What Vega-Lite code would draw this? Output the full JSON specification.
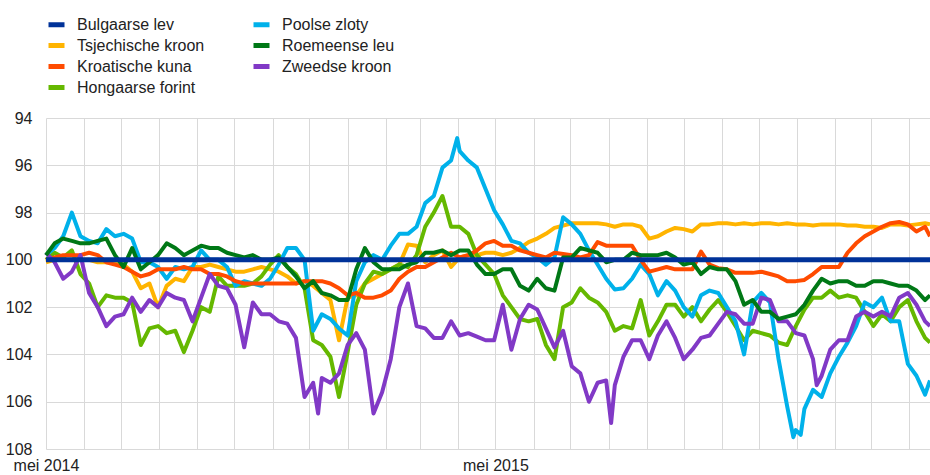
{
"$schema": "https://vega.github.io/schema/vega-lite/v6.json",
"width": 884, "height": 331,
"autosize": {"type": "none"},
"padding": {"left": 46, "top": 118, "right": 0, "bottom": 26},
"background": "white",
"config": {"font": "Liberation Sans", "view": {"stroke": null}},
"data": {"values": [
{"date":"2014-05-01","currency":"Tsjechische kroon","value":100.1},{"date":"2014-05-08","currency":"Tsjechische kroon","value":100.0},{"date":"2014-05-15","currency":"Tsjechische kroon","value":100.0},{"date":"2014-05-22","currency":"Tsjechische kroon","value":100.0},{"date":"2014-05-29","currency":"Tsjechische kroon","value":100.0},{"date":"2014-06-05","currency":"Tsjechische kroon","value":100.0},{"date":"2014-06-12","currency":"Tsjechische kroon","value":100.1},{"date":"2014-06-19","currency":"Tsjechische kroon","value":100.1},{"date":"2014-06-26","currency":"Tsjechische kroon","value":100.1},{"date":"2014-07-03","currency":"Tsjechische kroon","value":100.2},
{"date":"2014-07-10","currency":"Tsjechische kroon","value":100.5},{"date":"2014-07-17","currency":"Tsjechische kroon","value":101.2},{"date":"2014-07-24","currency":"Tsjechische kroon","value":101.0},{"date":"2014-07-31","currency":"Tsjechische kroon","value":102.0},{"date":"2014-08-07","currency":"Tsjechische kroon","value":101.1},{"date":"2014-08-14","currency":"Tsjechische kroon","value":100.8},{"date":"2014-08-21","currency":"Tsjechische kroon","value":100.9},{"date":"2014-08-28","currency":"Tsjechische kroon","value":100.3},{"date":"2014-09-04","currency":"Tsjechische kroon","value":100.3},{"date":"2014-09-11","currency":"Tsjechische kroon","value":100.2},
{"date":"2014-09-18","currency":"Tsjechische kroon","value":100.3},{"date":"2014-09-25","currency":"Tsjechische kroon","value":100.4},{"date":"2014-10-02","currency":"Tsjechische kroon","value":100.5},{"date":"2014-10-09","currency":"Tsjechische kroon","value":100.5},{"date":"2014-10-16","currency":"Tsjechische kroon","value":100.4},{"date":"2014-10-23","currency":"Tsjechische kroon","value":100.3},{"date":"2014-10-30","currency":"Tsjechische kroon","value":100.4},{"date":"2014-11-06","currency":"Tsjechische kroon","value":100.5},{"date":"2014-11-13","currency":"Tsjechische kroon","value":100.7},{"date":"2014-11-20","currency":"Tsjechische kroon","value":101.0},
{"date":"2014-11-27","currency":"Tsjechische kroon","value":100.9},{"date":"2014-12-04","currency":"Tsjechische kroon","value":101.1},{"date":"2014-12-11","currency":"Tsjechische kroon","value":101.4},{"date":"2014-12-18","currency":"Tsjechische kroon","value":101.7},{"date":"2014-12-25","currency":"Tsjechische kroon","value":103.4},{"date":"2015-01-01","currency":"Tsjechische kroon","value":101.6},{"date":"2015-01-08","currency":"Tsjechische kroon","value":101.5},{"date":"2015-01-15","currency":"Tsjechische kroon","value":101.0},{"date":"2015-01-22","currency":"Tsjechische kroon","value":100.8},{"date":"2015-01-29","currency":"Tsjechische kroon","value":100.6},
{"date":"2015-02-05","currency":"Tsjechische kroon","value":100.4},{"date":"2015-02-12","currency":"Tsjechische kroon","value":100.2},{"date":"2015-02-19","currency":"Tsjechische kroon","value":99.35},{"date":"2015-02-26","currency":"Tsjechische kroon","value":99.4},{"date":"2015-03-05","currency":"Tsjechische kroon","value":100.1},{"date":"2015-03-12","currency":"Tsjechische kroon","value":99.8},{"date":"2015-03-19","currency":"Tsjechische kroon","value":99.6},{"date":"2015-03-26","currency":"Tsjechische kroon","value":100.3},{"date":"2015-04-02","currency":"Tsjechische kroon","value":99.9},{"date":"2015-04-09","currency":"Tsjechische kroon","value":99.8},
{"date":"2015-04-16","currency":"Tsjechische kroon","value":99.8},{"date":"2015-04-23","currency":"Tsjechische kroon","value":99.7},{"date":"2015-04-30","currency":"Tsjechische kroon","value":99.7},{"date":"2015-05-07","currency":"Tsjechische kroon","value":99.8},{"date":"2015-05-14","currency":"Tsjechische kroon","value":99.7},{"date":"2015-05-21","currency":"Tsjechische kroon","value":99.5},{"date":"2015-05-28","currency":"Tsjechische kroon","value":99.25},{"date":"2015-06-04","currency":"Tsjechische kroon","value":99.1},{"date":"2015-06-11","currency":"Tsjechische kroon","value":98.9},{"date":"2015-06-18","currency":"Tsjechische kroon","value":98.65},
{"date":"2015-06-25","currency":"Tsjechische kroon","value":98.55},{"date":"2015-07-02","currency":"Tsjechische kroon","value":98.45},{"date":"2015-07-09","currency":"Tsjechische kroon","value":98.45},{"date":"2015-07-16","currency":"Tsjechische kroon","value":98.45},{"date":"2015-07-23","currency":"Tsjechische kroon","value":98.45},{"date":"2015-07-30","currency":"Tsjechische kroon","value":98.5},{"date":"2015-08-06","currency":"Tsjechische kroon","value":98.6},{"date":"2015-08-13","currency":"Tsjechische kroon","value":98.5},{"date":"2015-08-20","currency":"Tsjechische kroon","value":98.5},{"date":"2015-08-27","currency":"Tsjechische kroon","value":98.6},
{"date":"2015-09-03","currency":"Tsjechische kroon","value":99.1},{"date":"2015-09-10","currency":"Tsjechische kroon","value":99.0},{"date":"2015-09-17","currency":"Tsjechische kroon","value":98.8},{"date":"2015-09-24","currency":"Tsjechische kroon","value":98.65},{"date":"2015-10-01","currency":"Tsjechische kroon","value":98.7},{"date":"2015-10-08","currency":"Tsjechische kroon","value":98.8},{"date":"2015-10-15","currency":"Tsjechische kroon","value":98.5},{"date":"2015-10-22","currency":"Tsjechische kroon","value":98.5},{"date":"2015-10-29","currency":"Tsjechische kroon","value":98.45},{"date":"2015-11-05","currency":"Tsjechische kroon","value":98.45},
{"date":"2015-11-12","currency":"Tsjechische kroon","value":98.5},{"date":"2015-11-19","currency":"Tsjechische kroon","value":98.45},{"date":"2015-11-26","currency":"Tsjechische kroon","value":98.5},{"date":"2015-12-03","currency":"Tsjechische kroon","value":98.45},{"date":"2015-12-10","currency":"Tsjechische kroon","value":98.45},{"date":"2015-12-17","currency":"Tsjechische kroon","value":98.5},{"date":"2015-12-24","currency":"Tsjechische kroon","value":98.45},{"date":"2015-12-31","currency":"Tsjechische kroon","value":98.5},{"date":"2016-01-07","currency":"Tsjechische kroon","value":98.5},{"date":"2016-01-14","currency":"Tsjechische kroon","value":98.55},
{"date":"2016-01-21","currency":"Tsjechische kroon","value":98.5},{"date":"2016-01-28","currency":"Tsjechische kroon","value":98.5},{"date":"2016-02-04","currency":"Tsjechische kroon","value":98.5},{"date":"2016-02-11","currency":"Tsjechische kroon","value":98.55},{"date":"2016-02-18","currency":"Tsjechische kroon","value":98.55},{"date":"2016-02-25","currency":"Tsjechische kroon","value":98.6},{"date":"2016-03-03","currency":"Tsjechische kroon","value":98.6},{"date":"2016-03-10","currency":"Tsjechische kroon","value":98.65},{"date":"2016-03-17","currency":"Tsjechische kroon","value":98.5},{"date":"2016-03-24","currency":"Tsjechische kroon","value":98.5},
{"date":"2016-03-31","currency":"Tsjechische kroon","value":98.55},{"date":"2016-04-07","currency":"Tsjechische kroon","value":98.5},{"date":"2016-04-14","currency":"Tsjechische kroon","value":98.45},{"date":"2016-04-18","currency":"Tsjechische kroon","value":98.5},

{"date":"2014-05-01","currency":"Hongaarse forint","value":100.0},{"date":"2014-05-08","currency":"Hongaarse forint","value":99.7},{"date":"2014-05-15","currency":"Hongaarse forint","value":99.9},{"date":"2014-05-22","currency":"Hongaarse forint","value":99.6},{"date":"2014-05-29","currency":"Hongaarse forint","value":100.6},{"date":"2014-06-05","currency":"Hongaarse forint","value":101.0},{"date":"2014-06-12","currency":"Hongaarse forint","value":102.0},{"date":"2014-06-19","currency":"Hongaarse forint","value":101.5},{"date":"2014-06-26","currency":"Hongaarse forint","value":101.6},{"date":"2014-07-03","currency":"Hongaarse forint","value":101.6},
{"date":"2014-07-10","currency":"Hongaarse forint","value":101.8},{"date":"2014-07-17","currency":"Hongaarse forint","value":103.6},{"date":"2014-07-24","currency":"Hongaarse forint","value":102.9},{"date":"2014-07-31","currency":"Hongaarse forint","value":102.8},{"date":"2014-08-07","currency":"Hongaarse forint","value":103.1},{"date":"2014-08-14","currency":"Hongaarse forint","value":103.0},{"date":"2014-08-21","currency":"Hongaarse forint","value":103.9},{"date":"2014-08-28","currency":"Hongaarse forint","value":103.0},{"date":"2014-09-04","currency":"Hongaarse forint","value":102.0},{"date":"2014-09-11","currency":"Hongaarse forint","value":102.2},
{"date":"2014-09-18","currency":"Hongaarse forint","value":100.7},{"date":"2014-09-25","currency":"Hongaarse forint","value":101.1},{"date":"2014-10-02","currency":"Hongaarse forint","value":101.1},{"date":"2014-10-09","currency":"Hongaarse forint","value":101.1},{"date":"2014-10-16","currency":"Hongaarse forint","value":101.0},{"date":"2014-10-23","currency":"Hongaarse forint","value":100.7},{"date":"2014-10-30","currency":"Hongaarse forint","value":100.2},{"date":"2014-11-06","currency":"Hongaarse forint","value":99.8},{"date":"2014-11-13","currency":"Hongaarse forint","value":100.3},{"date":"2014-11-20","currency":"Hongaarse forint","value":100.6},
{"date":"2014-11-27","currency":"Hongaarse forint","value":101.2},{"date":"2014-12-04","currency":"Hongaarse forint","value":103.4},{"date":"2014-12-11","currency":"Hongaarse forint","value":103.6},{"date":"2014-12-18","currency":"Hongaarse forint","value":104.1},{"date":"2014-12-25","currency":"Hongaarse forint","value":105.8},{"date":"2015-01-01","currency":"Hongaarse forint","value":103.9},{"date":"2015-01-08","currency":"Hongaarse forint","value":101.9},{"date":"2015-01-15","currency":"Hongaarse forint","value":101.0},{"date":"2015-01-22","currency":"Hongaarse forint","value":100.5},{"date":"2015-01-29","currency":"Hongaarse forint","value":100.6},
{"date":"2015-02-05","currency":"Hongaarse forint","value":100.4},{"date":"2015-02-12","currency":"Hongaarse forint","value":100.2},{"date":"2015-02-19","currency":"Hongaarse forint","value":100.3},{"date":"2015-02-26","currency":"Hongaarse forint","value":99.8},{"date":"2015-03-05","currency":"Hongaarse forint","value":98.6},{"date":"2015-03-12","currency":"Hongaarse forint","value":98.0},{"date":"2015-03-19","currency":"Hongaarse forint","value":97.3},{"date":"2015-03-26","currency":"Hongaarse forint","value":98.6},{"date":"2015-04-02","currency":"Hongaarse forint","value":98.6},{"date":"2015-04-09","currency":"Hongaarse forint","value":98.9},
{"date":"2015-04-16","currency":"Hongaarse forint","value":99.8},{"date":"2015-04-23","currency":"Hongaarse forint","value":100.2},{"date":"2015-04-30","currency":"Hongaarse forint","value":100.6},{"date":"2015-05-07","currency":"Hongaarse forint","value":101.5},{"date":"2015-05-14","currency":"Hongaarse forint","value":102.0},{"date":"2015-05-21","currency":"Hongaarse forint","value":102.5},{"date":"2015-05-28","currency":"Hongaarse forint","value":102.6},{"date":"2015-06-04","currency":"Hongaarse forint","value":102.5},{"date":"2015-06-11","currency":"Hongaarse forint","value":103.6},{"date":"2015-06-18","currency":"Hongaarse forint","value":104.2},
{"date":"2015-06-25","currency":"Hongaarse forint","value":102.0},{"date":"2015-07-02","currency":"Hongaarse forint","value":101.8},{"date":"2015-07-09","currency":"Hongaarse forint","value":101.2},{"date":"2015-07-16","currency":"Hongaarse forint","value":101.6},{"date":"2015-07-23","currency":"Hongaarse forint","value":101.8},{"date":"2015-07-30","currency":"Hongaarse forint","value":102.2},{"date":"2015-08-06","currency":"Hongaarse forint","value":103.0},{"date":"2015-08-13","currency":"Hongaarse forint","value":102.8},{"date":"2015-08-20","currency":"Hongaarse forint","value":102.9},{"date":"2015-08-27","currency":"Hongaarse forint","value":101.7},
{"date":"2015-09-03","currency":"Hongaarse forint","value":103.2},{"date":"2015-09-10","currency":"Hongaarse forint","value":102.6},{"date":"2015-09-17","currency":"Hongaarse forint","value":101.9},{"date":"2015-09-24","currency":"Hongaarse forint","value":101.9},{"date":"2015-10-01","currency":"Hongaarse forint","value":102.4},{"date":"2015-10-08","currency":"Hongaarse forint","value":102.0},{"date":"2015-10-15","currency":"Hongaarse forint","value":102.6},{"date":"2015-10-22","currency":"Hongaarse forint","value":102.1},{"date":"2015-10-29","currency":"Hongaarse forint","value":101.7},{"date":"2015-11-05","currency":"Hongaarse forint","value":102.2},
{"date":"2015-11-12","currency":"Hongaarse forint","value":102.8},{"date":"2015-11-19","currency":"Hongaarse forint","value":103.4},{"date":"2015-11-26","currency":"Hongaarse forint","value":103.0},{"date":"2015-12-03","currency":"Hongaarse forint","value":103.1},{"date":"2015-12-10","currency":"Hongaarse forint","value":103.2},{"date":"2015-12-17","currency":"Hongaarse forint","value":103.5},{"date":"2015-12-24","currency":"Hongaarse forint","value":103.6},{"date":"2015-12-31","currency":"Hongaarse forint","value":102.8},{"date":"2016-01-07","currency":"Hongaarse forint","value":102.1},{"date":"2016-01-14","currency":"Hongaarse forint","value":101.6},
{"date":"2016-01-21","currency":"Hongaarse forint","value":101.6},{"date":"2016-01-28","currency":"Hongaarse forint","value":101.3},{"date":"2016-02-04","currency":"Hongaarse forint","value":101.6},{"date":"2016-02-11","currency":"Hongaarse forint","value":101.5},{"date":"2016-02-18","currency":"Hongaarse forint","value":101.6},{"date":"2016-02-25","currency":"Hongaarse forint","value":102.2},{"date":"2016-03-03","currency":"Hongaarse forint","value":102.8},{"date":"2016-03-10","currency":"Hongaarse forint","value":102.3},{"date":"2016-03-17","currency":"Hongaarse forint","value":102.6},{"date":"2016-03-24","currency":"Hongaarse forint","value":102.0},
{"date":"2016-03-31","currency":"Hongaarse forint","value":101.7},{"date":"2016-04-07","currency":"Hongaarse forint","value":102.6},{"date":"2016-04-14","currency":"Hongaarse forint","value":103.3},{"date":"2016-04-18","currency":"Hongaarse forint","value":103.5},

{"date":"2014-05-01","currency":"Poolse zloty","value":99.8},{"date":"2014-05-08","currency":"Poolse zloty","value":99.5},{"date":"2014-05-15","currency":"Poolse zloty","value":99.0},{"date":"2014-05-22","currency":"Poolse zloty","value":98.0},{"date":"2014-05-29","currency":"Poolse zloty","value":99.0},{"date":"2014-06-05","currency":"Poolse zloty","value":99.2},{"date":"2014-06-12","currency":"Poolse zloty","value":99.3},{"date":"2014-06-19","currency":"Poolse zloty","value":98.7},{"date":"2014-06-26","currency":"Poolse zloty","value":99.0},{"date":"2014-07-03","currency":"Poolse zloty","value":98.9},
{"date":"2014-07-10","currency":"Poolse zloty","value":99.1},{"date":"2014-07-17","currency":"Poolse zloty","value":100.1},{"date":"2014-07-24","currency":"Poolse zloty","value":100.1},{"date":"2014-07-31","currency":"Poolse zloty","value":100.3},{"date":"2014-08-07","currency":"Poolse zloty","value":100.8},{"date":"2014-08-14","currency":"Poolse zloty","value":100.3},{"date":"2014-08-21","currency":"Poolse zloty","value":100.4},{"date":"2014-08-28","currency":"Poolse zloty","value":100.3},{"date":"2014-09-04","currency":"Poolse zloty","value":99.6},{"date":"2014-09-11","currency":"Poolse zloty","value":100.0},
{"date":"2014-09-18","currency":"Poolse zloty","value":100.0},{"date":"2014-09-25","currency":"Poolse zloty","value":100.3},{"date":"2014-10-02","currency":"Poolse zloty","value":101.1},{"date":"2014-10-09","currency":"Poolse zloty","value":100.9},{"date":"2014-10-16","currency":"Poolse zloty","value":101.0},{"date":"2014-10-23","currency":"Poolse zloty","value":101.1},{"date":"2014-10-30","currency":"Poolse zloty","value":100.8},{"date":"2014-11-06","currency":"Poolse zloty","value":100.2},{"date":"2014-11-13","currency":"Poolse zloty","value":99.5},{"date":"2014-11-20","currency":"Poolse zloty","value":99.5},
{"date":"2014-11-27","currency":"Poolse zloty","value":100.0},{"date":"2014-12-04","currency":"Poolse zloty","value":103.0},{"date":"2014-12-11","currency":"Poolse zloty","value":102.3},{"date":"2014-12-18","currency":"Poolse zloty","value":102.5},{"date":"2014-12-25","currency":"Poolse zloty","value":102.9},{"date":"2015-01-01","currency":"Poolse zloty","value":103.2},{"date":"2015-01-08","currency":"Poolse zloty","value":100.9},{"date":"2015-01-15","currency":"Poolse zloty","value":100.1},{"date":"2015-01-22","currency":"Poolse zloty","value":99.8},{"date":"2015-01-29","currency":"Poolse zloty","value":100.0},
{"date":"2015-02-05","currency":"Poolse zloty","value":99.4},{"date":"2015-02-12","currency":"Poolse zloty","value":98.9},{"date":"2015-02-19","currency":"Poolse zloty","value":98.9},{"date":"2015-02-26","currency":"Poolse zloty","value":98.6},{"date":"2015-03-05","currency":"Poolse zloty","value":97.6},{"date":"2015-03-12","currency":"Poolse zloty","value":97.3},{"date":"2015-03-19","currency":"Poolse zloty","value":96.1},{"date":"2015-03-26","currency":"Poolse zloty","value":95.8},{"date":"2015-03-31","currency":"Poolse zloty","value":94.85},{"date":"2015-04-02","currency":"Poolse zloty","value":95.4},{"date":"2015-04-09","currency":"Poolse zloty","value":95.8},
{"date":"2015-04-16","currency":"Poolse zloty","value":96.1},{"date":"2015-04-23","currency":"Poolse zloty","value":97.0},{"date":"2015-04-30","currency":"Poolse zloty","value":97.9},{"date":"2015-05-07","currency":"Poolse zloty","value":98.5},{"date":"2015-05-14","currency":"Poolse zloty","value":99.2},{"date":"2015-05-21","currency":"Poolse zloty","value":99.3},{"date":"2015-05-28","currency":"Poolse zloty","value":99.7},{"date":"2015-06-04","currency":"Poolse zloty","value":99.9},{"date":"2015-06-11","currency":"Poolse zloty","value":100.2},{"date":"2015-06-18","currency":"Poolse zloty","value":99.9},
{"date":"2015-06-25","currency":"Poolse zloty","value":98.2},{"date":"2015-07-02","currency":"Poolse zloty","value":98.5},{"date":"2015-07-09","currency":"Poolse zloty","value":98.9},{"date":"2015-07-16","currency":"Poolse zloty","value":99.6},{"date":"2015-07-23","currency":"Poolse zloty","value":100.2},{"date":"2015-07-30","currency":"Poolse zloty","value":100.8},{"date":"2015-08-06","currency":"Poolse zloty","value":101.25},{"date":"2015-08-13","currency":"Poolse zloty","value":101.2},{"date":"2015-08-20","currency":"Poolse zloty","value":100.8},{"date":"2015-08-27","currency":"Poolse zloty","value":100.2},
{"date":"2015-09-03","currency":"Poolse zloty","value":100.6},{"date":"2015-09-10","currency":"Poolse zloty","value":101.5},{"date":"2015-09-17","currency":"Poolse zloty","value":100.9},{"date":"2015-09-24","currency":"Poolse zloty","value":101.3},{"date":"2015-10-01","currency":"Poolse zloty","value":102.0},{"date":"2015-10-08","currency":"Poolse zloty","value":102.4},{"date":"2015-10-15","currency":"Poolse zloty","value":101.5},{"date":"2015-10-22","currency":"Poolse zloty","value":101.3},{"date":"2015-10-29","currency":"Poolse zloty","value":101.4},{"date":"2015-11-05","currency":"Poolse zloty","value":102.0},
{"date":"2015-11-12","currency":"Poolse zloty","value":102.6},{"date":"2015-11-19","currency":"Poolse zloty","value":104.0},{"date":"2015-11-26","currency":"Poolse zloty","value":101.8},{"date":"2015-12-03","currency":"Poolse zloty","value":101.4},{"date":"2015-12-10","currency":"Poolse zloty","value":101.8},{"date":"2015-12-17","currency":"Poolse zloty","value":104.2},{"date":"2015-12-24","currency":"Poolse zloty","value":106.2},{"date":"2015-12-29","currency":"Poolse zloty","value":107.5},{"date":"2015-12-31","currency":"Poolse zloty","value":107.2},{"date":"2016-01-04","currency":"Poolse zloty","value":107.4},{"date":"2016-01-07","currency":"Poolse zloty","value":106.3},{"date":"2016-01-14","currency":"Poolse zloty","value":105.5},
{"date":"2016-01-21","currency":"Poolse zloty","value":105.8},{"date":"2016-01-28","currency":"Poolse zloty","value":104.8},{"date":"2016-02-04","currency":"Poolse zloty","value":104.1},{"date":"2016-02-11","currency":"Poolse zloty","value":103.5},{"date":"2016-02-18","currency":"Poolse zloty","value":102.8},{"date":"2016-02-25","currency":"Poolse zloty","value":101.8},{"date":"2016-03-03","currency":"Poolse zloty","value":102.0},{"date":"2016-03-10","currency":"Poolse zloty","value":101.6},{"date":"2016-03-17","currency":"Poolse zloty","value":102.6},{"date":"2016-03-24","currency":"Poolse zloty","value":102.6},
{"date":"2016-03-31","currency":"Poolse zloty","value":104.4},{"date":"2016-04-07","currency":"Poolse zloty","value":104.9},{"date":"2016-04-14","currency":"Poolse zloty","value":105.7},{"date":"2016-04-18","currency":"Poolse zloty","value":105.1},

{"date":"2014-05-01","currency":"Kroatische kuna","value":100.0},{"date":"2014-05-08","currency":"Kroatische kuna","value":99.9},{"date":"2014-05-15","currency":"Kroatische kuna","value":99.8},{"date":"2014-05-22","currency":"Kroatische kuna","value":99.8},{"date":"2014-05-29","currency":"Kroatische kuna","value":99.8},{"date":"2014-06-05","currency":"Kroatische kuna","value":99.7},{"date":"2014-06-12","currency":"Kroatische kuna","value":99.8},{"date":"2014-06-19","currency":"Kroatische kuna","value":100.1},{"date":"2014-06-26","currency":"Kroatische kuna","value":100.2},{"date":"2014-07-03","currency":"Kroatische kuna","value":100.3},
{"date":"2014-07-10","currency":"Kroatische kuna","value":100.5},{"date":"2014-07-17","currency":"Kroatische kuna","value":100.7},{"date":"2014-07-24","currency":"Kroatische kuna","value":100.6},{"date":"2014-07-31","currency":"Kroatische kuna","value":100.4},{"date":"2014-08-07","currency":"Kroatische kuna","value":100.4},{"date":"2014-08-14","currency":"Kroatische kuna","value":100.4},{"date":"2014-08-21","currency":"Kroatische kuna","value":100.3},{"date":"2014-08-28","currency":"Kroatische kuna","value":100.4},{"date":"2014-09-04","currency":"Kroatische kuna","value":100.4},{"date":"2014-09-11","currency":"Kroatische kuna","value":100.6},
{"date":"2014-09-18","currency":"Kroatische kuna","value":100.6},{"date":"2014-09-25","currency":"Kroatische kuna","value":100.7},{"date":"2014-10-02","currency":"Kroatische kuna","value":100.9},{"date":"2014-10-09","currency":"Kroatische kuna","value":101.0},{"date":"2014-10-16","currency":"Kroatische kuna","value":101.0},{"date":"2014-10-23","currency":"Kroatische kuna","value":101.0},{"date":"2014-10-30","currency":"Kroatische kuna","value":101.0},{"date":"2014-11-06","currency":"Kroatische kuna","value":101.0},{"date":"2014-11-13","currency":"Kroatische kuna","value":101.0},{"date":"2014-11-20","currency":"Kroatische kuna","value":101.0},
{"date":"2014-11-27","currency":"Kroatische kuna","value":100.9},{"date":"2014-12-04","currency":"Kroatische kuna","value":100.9},{"date":"2014-12-11","currency":"Kroatische kuna","value":100.9},{"date":"2014-12-18","currency":"Kroatische kuna","value":101.0},{"date":"2014-12-25","currency":"Kroatische kuna","value":101.2},{"date":"2015-01-01","currency":"Kroatische kuna","value":101.5},{"date":"2015-01-08","currency":"Kroatische kuna","value":101.4},{"date":"2015-01-15","currency":"Kroatische kuna","value":101.6},{"date":"2015-01-22","currency":"Kroatische kuna","value":101.6},{"date":"2015-01-29","currency":"Kroatische kuna","value":101.5},
{"date":"2015-02-05","currency":"Kroatische kuna","value":101.3},{"date":"2015-02-12","currency":"Kroatische kuna","value":100.8},{"date":"2015-02-19","currency":"Kroatische kuna","value":100.5},{"date":"2015-02-26","currency":"Kroatische kuna","value":100.3},{"date":"2015-03-05","currency":"Kroatische kuna","value":100.3},{"date":"2015-03-12","currency":"Kroatische kuna","value":100.1},{"date":"2015-03-19","currency":"Kroatische kuna","value":99.9},{"date":"2015-03-26","currency":"Kroatische kuna","value":99.7},{"date":"2015-04-02","currency":"Kroatische kuna","value":99.9},{"date":"2015-04-09","currency":"Kroatische kuna","value":99.8},
{"date":"2015-04-16","currency":"Kroatische kuna","value":99.6},{"date":"2015-04-23","currency":"Kroatische kuna","value":99.3},{"date":"2015-04-30","currency":"Kroatische kuna","value":99.2},{"date":"2015-05-07","currency":"Kroatische kuna","value":99.4},{"date":"2015-05-14","currency":"Kroatische kuna","value":99.4},{"date":"2015-05-21","currency":"Kroatische kuna","value":99.6},{"date":"2015-05-28","currency":"Kroatische kuna","value":99.7},{"date":"2015-06-04","currency":"Kroatische kuna","value":99.8},{"date":"2015-06-11","currency":"Kroatische kuna","value":99.9},{"date":"2015-06-18","currency":"Kroatische kuna","value":99.7},
{"date":"2015-06-25","currency":"Kroatische kuna","value":99.75},{"date":"2015-07-02","currency":"Kroatische kuna","value":99.8},{"date":"2015-07-09","currency":"Kroatische kuna","value":99.9},{"date":"2015-07-16","currency":"Kroatische kuna","value":99.8},{"date":"2015-07-23","currency":"Kroatische kuna","value":99.25},{"date":"2015-07-30","currency":"Kroatische kuna","value":99.4},{"date":"2015-08-06","currency":"Kroatische kuna","value":99.4},{"date":"2015-08-13","currency":"Kroatische kuna","value":99.4},{"date":"2015-08-20","currency":"Kroatische kuna","value":99.4},{"date":"2015-08-27","currency":"Kroatische kuna","value":100.0},
{"date":"2015-09-03","currency":"Kroatische kuna","value":100.5},{"date":"2015-09-10","currency":"Kroatische kuna","value":100.4},{"date":"2015-09-17","currency":"Kroatische kuna","value":100.3},{"date":"2015-09-24","currency":"Kroatische kuna","value":100.4},{"date":"2015-10-01","currency":"Kroatische kuna","value":100.4},{"date":"2015-10-08","currency":"Kroatische kuna","value":100.4},{"date":"2015-10-15","currency":"Kroatische kuna","value":99.65},{"date":"2015-10-22","currency":"Kroatische kuna","value":100.2},{"date":"2015-10-29","currency":"Kroatische kuna","value":100.35},{"date":"2015-11-05","currency":"Kroatische kuna","value":100.4},
{"date":"2015-11-12","currency":"Kroatische kuna","value":100.55},{"date":"2015-11-19","currency":"Kroatische kuna","value":100.55},{"date":"2015-11-26","currency":"Kroatische kuna","value":100.55},{"date":"2015-12-03","currency":"Kroatische kuna","value":100.5},{"date":"2015-12-10","currency":"Kroatische kuna","value":100.6},{"date":"2015-12-17","currency":"Kroatische kuna","value":100.7},{"date":"2015-12-24","currency":"Kroatische kuna","value":100.9},{"date":"2015-12-31","currency":"Kroatische kuna","value":100.9},{"date":"2016-01-07","currency":"Kroatische kuna","value":100.85},{"date":"2016-01-14","currency":"Kroatische kuna","value":100.6},
{"date":"2016-01-21","currency":"Kroatische kuna","value":100.3},{"date":"2016-01-28","currency":"Kroatische kuna","value":100.3},{"date":"2016-02-04","currency":"Kroatische kuna","value":100.3},{"date":"2016-02-11","currency":"Kroatische kuna","value":99.7},{"date":"2016-02-18","currency":"Kroatische kuna","value":99.3},{"date":"2016-02-25","currency":"Kroatische kuna","value":99.0},{"date":"2016-03-03","currency":"Kroatische kuna","value":98.8},{"date":"2016-03-10","currency":"Kroatische kuna","value":98.6},{"date":"2016-03-17","currency":"Kroatische kuna","value":98.45},{"date":"2016-03-24","currency":"Kroatische kuna","value":98.4},
{"date":"2016-03-31","currency":"Kroatische kuna","value":98.5},{"date":"2016-04-07","currency":"Kroatische kuna","value":98.8},{"date":"2016-04-14","currency":"Kroatische kuna","value":98.6},{"date":"2016-04-18","currency":"Kroatische kuna","value":99.0},

{"date":"2014-05-01","currency":"Zweedse kroon","value":99.7},{"date":"2014-05-08","currency":"Zweedse kroon","value":100.1},{"date":"2014-05-15","currency":"Zweedse kroon","value":100.8},{"date":"2014-05-22","currency":"Zweedse kroon","value":100.5},{"date":"2014-05-29","currency":"Zweedse kroon","value":99.8},{"date":"2014-06-05","currency":"Zweedse kroon","value":101.4},{"date":"2014-06-12","currency":"Zweedse kroon","value":102.0},{"date":"2014-06-19","currency":"Zweedse kroon","value":102.8},{"date":"2014-06-26","currency":"Zweedse kroon","value":102.4},{"date":"2014-07-03","currency":"Zweedse kroon","value":102.3},
{"date":"2014-07-10","currency":"Zweedse kroon","value":101.6},{"date":"2014-07-17","currency":"Zweedse kroon","value":102.2},{"date":"2014-07-24","currency":"Zweedse kroon","value":101.7},{"date":"2014-07-31","currency":"Zweedse kroon","value":102.0},{"date":"2014-08-07","currency":"Zweedse kroon","value":101.4},{"date":"2014-08-14","currency":"Zweedse kroon","value":101.6},{"date":"2014-08-21","currency":"Zweedse kroon","value":101.7},{"date":"2014-08-28","currency":"Zweedse kroon","value":102.6},{"date":"2014-09-04","currency":"Zweedse kroon","value":101.6},{"date":"2014-09-11","currency":"Zweedse kroon","value":100.6},
{"date":"2014-09-18","currency":"Zweedse kroon","value":101.1},{"date":"2014-09-25","currency":"Zweedse kroon","value":101.2},{"date":"2014-10-02","currency":"Zweedse kroon","value":101.9},{"date":"2014-10-09","currency":"Zweedse kroon","value":103.7},{"date":"2014-10-16","currency":"Zweedse kroon","value":101.8},{"date":"2014-10-23","currency":"Zweedse kroon","value":102.3},{"date":"2014-10-30","currency":"Zweedse kroon","value":102.3},{"date":"2014-11-06","currency":"Zweedse kroon","value":102.6},{"date":"2014-11-13","currency":"Zweedse kroon","value":102.7},{"date":"2014-11-20","currency":"Zweedse kroon","value":103.3},
{"date":"2014-11-27","currency":"Zweedse kroon","value":105.8},{"date":"2014-12-04","currency":"Zweedse kroon","value":105.2},{"date":"2014-12-08","currency":"Zweedse kroon","value":106.5},{"date":"2014-12-11","currency":"Zweedse kroon","value":105.0},{"date":"2014-12-18","currency":"Zweedse kroon","value":105.2},{"date":"2014-12-25","currency":"Zweedse kroon","value":104.8},{"date":"2015-01-01","currency":"Zweedse kroon","value":103.6},{"date":"2015-01-08","currency":"Zweedse kroon","value":103.1},{"date":"2015-01-15","currency":"Zweedse kroon","value":103.8},{"date":"2015-01-22","currency":"Zweedse kroon","value":106.5},{"date":"2015-01-29","currency":"Zweedse kroon","value":105.6},
{"date":"2015-02-05","currency":"Zweedse kroon","value":104.2},{"date":"2015-02-12","currency":"Zweedse kroon","value":102.0},{"date":"2015-02-19","currency":"Zweedse kroon","value":101.0},{"date":"2015-02-26","currency":"Zweedse kroon","value":102.8},{"date":"2015-03-05","currency":"Zweedse kroon","value":102.9},{"date":"2015-03-12","currency":"Zweedse kroon","value":103.3},{"date":"2015-03-19","currency":"Zweedse kroon","value":103.3},{"date":"2015-03-26","currency":"Zweedse kroon","value":102.6},{"date":"2015-04-02","currency":"Zweedse kroon","value":103.2},{"date":"2015-04-09","currency":"Zweedse kroon","value":103.1},
{"date":"2015-04-16","currency":"Zweedse kroon","value":103.25},{"date":"2015-04-23","currency":"Zweedse kroon","value":103.4},{"date":"2015-04-30","currency":"Zweedse kroon","value":103.4},{"date":"2015-05-07","currency":"Zweedse kroon","value":101.9},{"date":"2015-05-14","currency":"Zweedse kroon","value":103.8},{"date":"2015-05-21","currency":"Zweedse kroon","value":102.5},{"date":"2015-05-28","currency":"Zweedse kroon","value":101.9},{"date":"2015-06-04","currency":"Zweedse kroon","value":102.1},{"date":"2015-06-11","currency":"Zweedse kroon","value":102.9},{"date":"2015-06-18","currency":"Zweedse kroon","value":103.7},
{"date":"2015-06-25","currency":"Zweedse kroon","value":103.0},{"date":"2015-07-02","currency":"Zweedse kroon","value":104.5},{"date":"2015-07-09","currency":"Zweedse kroon","value":104.8},{"date":"2015-07-16","currency":"Zweedse kroon","value":106.0},{"date":"2015-07-23","currency":"Zweedse kroon","value":105.2},{"date":"2015-07-30","currency":"Zweedse kroon","value":105.1},{"date":"2015-08-03","currency":"Zweedse kroon","value":106.9},{"date":"2015-08-06","currency":"Zweedse kroon","value":105.3},{"date":"2015-08-13","currency":"Zweedse kroon","value":104.1},{"date":"2015-08-20","currency":"Zweedse kroon","value":103.4},{"date":"2015-08-27","currency":"Zweedse kroon","value":103.4},
{"date":"2015-09-03","currency":"Zweedse kroon","value":104.2},{"date":"2015-09-10","currency":"Zweedse kroon","value":103.2},{"date":"2015-09-17","currency":"Zweedse kroon","value":102.6},{"date":"2015-09-24","currency":"Zweedse kroon","value":103.3},{"date":"2015-10-01","currency":"Zweedse kroon","value":104.2},{"date":"2015-10-08","currency":"Zweedse kroon","value":103.8},{"date":"2015-10-15","currency":"Zweedse kroon","value":103.3},{"date":"2015-10-22","currency":"Zweedse kroon","value":103.2},{"date":"2015-10-29","currency":"Zweedse kroon","value":102.7},{"date":"2015-11-05","currency":"Zweedse kroon","value":102.2},
{"date":"2015-11-12","currency":"Zweedse kroon","value":102.3},{"date":"2015-11-19","currency":"Zweedse kroon","value":102.7},{"date":"2015-11-26","currency":"Zweedse kroon","value":102.7},{"date":"2015-12-03","currency":"Zweedse kroon","value":101.6},{"date":"2015-12-10","currency":"Zweedse kroon","value":101.7},{"date":"2015-12-17","currency":"Zweedse kroon","value":102.6},{"date":"2015-12-24","currency":"Zweedse kroon","value":102.6},{"date":"2015-12-31","currency":"Zweedse kroon","value":103.1},{"date":"2016-01-07","currency":"Zweedse kroon","value":103.2},{"date":"2016-01-14","currency":"Zweedse kroon","value":104.2},{"date":"2016-01-17","currency":"Zweedse kroon","value":105.3},
{"date":"2016-01-21","currency":"Zweedse kroon","value":104.9},{"date":"2016-01-28","currency":"Zweedse kroon","value":103.8},{"date":"2016-02-04","currency":"Zweedse kroon","value":103.4},{"date":"2016-02-11","currency":"Zweedse kroon","value":103.4},{"date":"2016-02-18","currency":"Zweedse kroon","value":102.4},{"date":"2016-02-25","currency":"Zweedse kroon","value":102.2},{"date":"2016-03-03","currency":"Zweedse kroon","value":102.4},{"date":"2016-03-10","currency":"Zweedse kroon","value":102.2},{"date":"2016-03-17","currency":"Zweedse kroon","value":102.4},{"date":"2016-03-24","currency":"Zweedse kroon","value":101.6},
{"date":"2016-03-31","currency":"Zweedse kroon","value":101.4},{"date":"2016-04-07","currency":"Zweedse kroon","value":101.9},{"date":"2016-04-14","currency":"Zweedse kroon","value":102.6},{"date":"2016-04-18","currency":"Zweedse kroon","value":102.8},

{"date":"2014-05-01","currency":"Roemeense leu","value":99.8},{"date":"2014-05-08","currency":"Roemeense leu","value":99.3},{"date":"2014-05-15","currency":"Roemeense leu","value":99.1},{"date":"2014-05-22","currency":"Roemeense leu","value":99.2},{"date":"2014-05-29","currency":"Roemeense leu","value":99.3},{"date":"2014-06-05","currency":"Roemeense leu","value":99.3},{"date":"2014-06-12","currency":"Roemeense leu","value":99.2},{"date":"2014-06-19","currency":"Roemeense leu","value":99.1},{"date":"2014-06-26","currency":"Roemeense leu","value":99.8},{"date":"2014-07-03","currency":"Roemeense leu","value":100.3},
{"date":"2014-07-10","currency":"Roemeense leu","value":99.5},{"date":"2014-07-17","currency":"Roemeense leu","value":100.4},{"date":"2014-07-24","currency":"Roemeense leu","value":100.1},{"date":"2014-07-31","currency":"Roemeense leu","value":99.8},{"date":"2014-08-07","currency":"Roemeense leu","value":99.3},{"date":"2014-08-14","currency":"Roemeense leu","value":99.5},{"date":"2014-08-21","currency":"Roemeense leu","value":99.8},{"date":"2014-08-28","currency":"Roemeense leu","value":99.6},{"date":"2014-09-04","currency":"Roemeense leu","value":99.4},{"date":"2014-09-11","currency":"Roemeense leu","value":99.5},
{"date":"2014-09-18","currency":"Roemeense leu","value":99.5},{"date":"2014-09-25","currency":"Roemeense leu","value":99.7},{"date":"2014-10-02","currency":"Roemeense leu","value":99.8},{"date":"2014-10-09","currency":"Roemeense leu","value":99.9},{"date":"2014-10-16","currency":"Roemeense leu","value":99.8},{"date":"2014-10-23","currency":"Roemeense leu","value":100.0},{"date":"2014-10-30","currency":"Roemeense leu","value":100.0},{"date":"2014-11-06","currency":"Roemeense leu","value":99.9},{"date":"2014-11-13","currency":"Roemeense leu","value":100.3},{"date":"2014-11-20","currency":"Roemeense leu","value":100.7},
{"date":"2014-11-27","currency":"Roemeense leu","value":101.2},{"date":"2014-12-04","currency":"Roemeense leu","value":100.9},{"date":"2014-12-11","currency":"Roemeense leu","value":101.4},{"date":"2014-12-18","currency":"Roemeense leu","value":101.5},{"date":"2014-12-25","currency":"Roemeense leu","value":101.7},{"date":"2015-01-01","currency":"Roemeense leu","value":101.7},{"date":"2015-01-08","currency":"Roemeense leu","value":100.4},{"date":"2015-01-15","currency":"Roemeense leu","value":99.5},{"date":"2015-01-22","currency":"Roemeense leu","value":100.1},{"date":"2015-01-29","currency":"Roemeense leu","value":100.4},
{"date":"2015-02-05","currency":"Roemeense leu","value":100.4},{"date":"2015-02-12","currency":"Roemeense leu","value":100.4},{"date":"2015-02-19","currency":"Roemeense leu","value":100.2},{"date":"2015-02-26","currency":"Roemeense leu","value":100.1},{"date":"2015-03-05","currency":"Roemeense leu","value":99.7},{"date":"2015-03-12","currency":"Roemeense leu","value":99.7},{"date":"2015-03-19","currency":"Roemeense leu","value":99.6},{"date":"2015-03-26","currency":"Roemeense leu","value":99.8},{"date":"2015-04-02","currency":"Roemeense leu","value":99.6},{"date":"2015-04-09","currency":"Roemeense leu","value":99.6},
{"date":"2015-04-16","currency":"Roemeense leu","value":100.2},{"date":"2015-04-23","currency":"Roemeense leu","value":100.6},{"date":"2015-04-30","currency":"Roemeense leu","value":100.6},{"date":"2015-05-07","currency":"Roemeense leu","value":100.4},{"date":"2015-05-14","currency":"Roemeense leu","value":100.4},{"date":"2015-05-21","currency":"Roemeense leu","value":101.1},{"date":"2015-05-28","currency":"Roemeense leu","value":101.3},{"date":"2015-06-04","currency":"Roemeense leu","value":100.8},{"date":"2015-06-11","currency":"Roemeense leu","value":101.2},{"date":"2015-06-18","currency":"Roemeense leu","value":101.3},
{"date":"2015-06-25","currency":"Roemeense leu","value":99.9},{"date":"2015-07-02","currency":"Roemeense leu","value":99.9},{"date":"2015-07-09","currency":"Roemeense leu","value":99.5},{"date":"2015-07-16","currency":"Roemeense leu","value":99.6},{"date":"2015-07-23","currency":"Roemeense leu","value":99.7},{"date":"2015-07-30","currency":"Roemeense leu","value":100.1},{"date":"2015-08-06","currency":"Roemeense leu","value":100.0},{"date":"2015-08-13","currency":"Roemeense leu","value":100.0},{"date":"2015-08-20","currency":"Roemeense leu","value":99.7},{"date":"2015-08-27","currency":"Roemeense leu","value":99.8},
{"date":"2015-09-03","currency":"Roemeense leu","value":99.8},{"date":"2015-09-10","currency":"Roemeense leu","value":99.8},{"date":"2015-09-17","currency":"Roemeense leu","value":99.7},{"date":"2015-09-24","currency":"Roemeense leu","value":99.9},{"date":"2015-10-01","currency":"Roemeense leu","value":100.2},{"date":"2015-10-08","currency":"Roemeense leu","value":100.1},{"date":"2015-10-15","currency":"Roemeense leu","value":100.6},{"date":"2015-10-22","currency":"Roemeense leu","value":100.3},{"date":"2015-10-29","currency":"Roemeense leu","value":100.4},{"date":"2015-11-05","currency":"Roemeense leu","value":100.4},
{"date":"2015-11-12","currency":"Roemeense leu","value":100.9},{"date":"2015-11-19","currency":"Roemeense leu","value":101.9},{"date":"2015-11-26","currency":"Roemeense leu","value":101.7},{"date":"2015-12-03","currency":"Roemeense leu","value":102.2},{"date":"2015-12-10","currency":"Roemeense leu","value":102.2},{"date":"2015-12-17","currency":"Roemeense leu","value":102.5},{"date":"2015-12-24","currency":"Roemeense leu","value":102.4},{"date":"2015-12-31","currency":"Roemeense leu","value":102.3},{"date":"2016-01-07","currency":"Roemeense leu","value":101.9},{"date":"2016-01-14","currency":"Roemeense leu","value":101.3},
{"date":"2016-01-21","currency":"Roemeense leu","value":100.8},{"date":"2016-01-28","currency":"Roemeense leu","value":101.0},{"date":"2016-02-04","currency":"Roemeense leu","value":100.9},{"date":"2016-02-11","currency":"Roemeense leu","value":100.9},{"date":"2016-02-18","currency":"Roemeense leu","value":101.1},{"date":"2016-02-25","currency":"Roemeense leu","value":101.1},{"date":"2016-03-03","currency":"Roemeense leu","value":100.9},{"date":"2016-03-10","currency":"Roemeense leu","value":100.9},{"date":"2016-03-17","currency":"Roemeense leu","value":101.0},{"date":"2016-03-24","currency":"Roemeense leu","value":101.1},
{"date":"2016-03-31","currency":"Roemeense leu","value":101.1},{"date":"2016-04-07","currency":"Roemeense leu","value":101.3},{"date":"2016-04-14","currency":"Roemeense leu","value":101.7},{"date":"2016-04-18","currency":"Roemeense leu","value":101.5},

{"date":"2014-05-01","currency":"Bulgaarse lev","value":100},{"date":"2016-04-18","currency":"Bulgaarse lev","value":100}
]},
"encoding": {
  "x": {"field": "date", "type": "temporal",
    "scale": {"type": "utc", "domain": [{"year": 2014, "month": 5, "date": 1, "utc": true}, {"year": 2016, "month": 4, "date": 18, "utc": true}]},
    "axis": {"title": null, "tickCount": {"interval": "month", "step": 1},
      "labelExpr": "utcFormat(datum.value, '%m') === '05' ? 'mei ' + utcFormat(datum.value, '%Y') : ''",
      "labelOverlap": false, "labelBound": false, "labelFlush": false, "ticks": false, "domain": false,
      "grid": true, "gridColor": "#d9d9d9", "gridWidth": 1,
      "labelFontSize": 16, "labelColor": "#222222", "labelPadding": 8, "labelFont": "Liberation Sans"}},
  "y": {"field": "value", "type": "quantitative",
    "scale": {"domain": [94, 108], "reverse": true, "zero": false, "nice": false},
    "axis": {"title": null, "values": [94, 96, 98, 100, 102, 104, 106, 108], "ticks": false, "domain": false,
      "grid": true, "gridColor": "#d9d9d9", "gridWidth": 1,
      "labelFontSize": 16, "labelColor": "#222222", "labelPadding": 14, "labelFont": "Liberation Sans"}},
  "color": {"field": "currency", "type": "nominal",
    "scale": {"domain": ["Bulgaarse lev", "Tsjechische kroon", "Kroatische kuna", "Hongaarse forint", "Poolse zloty", "Roemeense leu", "Zweedse kroon"],
              "range": ["#003299", "#FFB400", "#FF4B00", "#65B800", "#00B1EA", "#007816", "#8139C6"]},
    "legend": {"title": null, "orient": "none", "legendX": 0, "legendY": -104, "columns": 2, "direction": "vertical",
      "symbolType": "stroke", "symbolSize": 256, "symbolStrokeWidth": 5,
      "labelFontSize": 16, "labelColor": "#222222", "labelFont": "Liberation Sans", "labelOffset": 10, "labelLimit": 300,
      "columnPadding": 38, "rowPadding": 0, "padding": 0}}
},
"layer": [
  {"transform": [{"filter": "datum.currency !== 'Bulgaarse lev'"}], "mark": {"type": "line", "strokeWidth": 4, "strokeJoin": "round"}},
  {"transform": [{"filter": "datum.currency === 'Bulgaarse lev'"}], "mark": {"type": "line", "strokeWidth": 5}}
]
}
